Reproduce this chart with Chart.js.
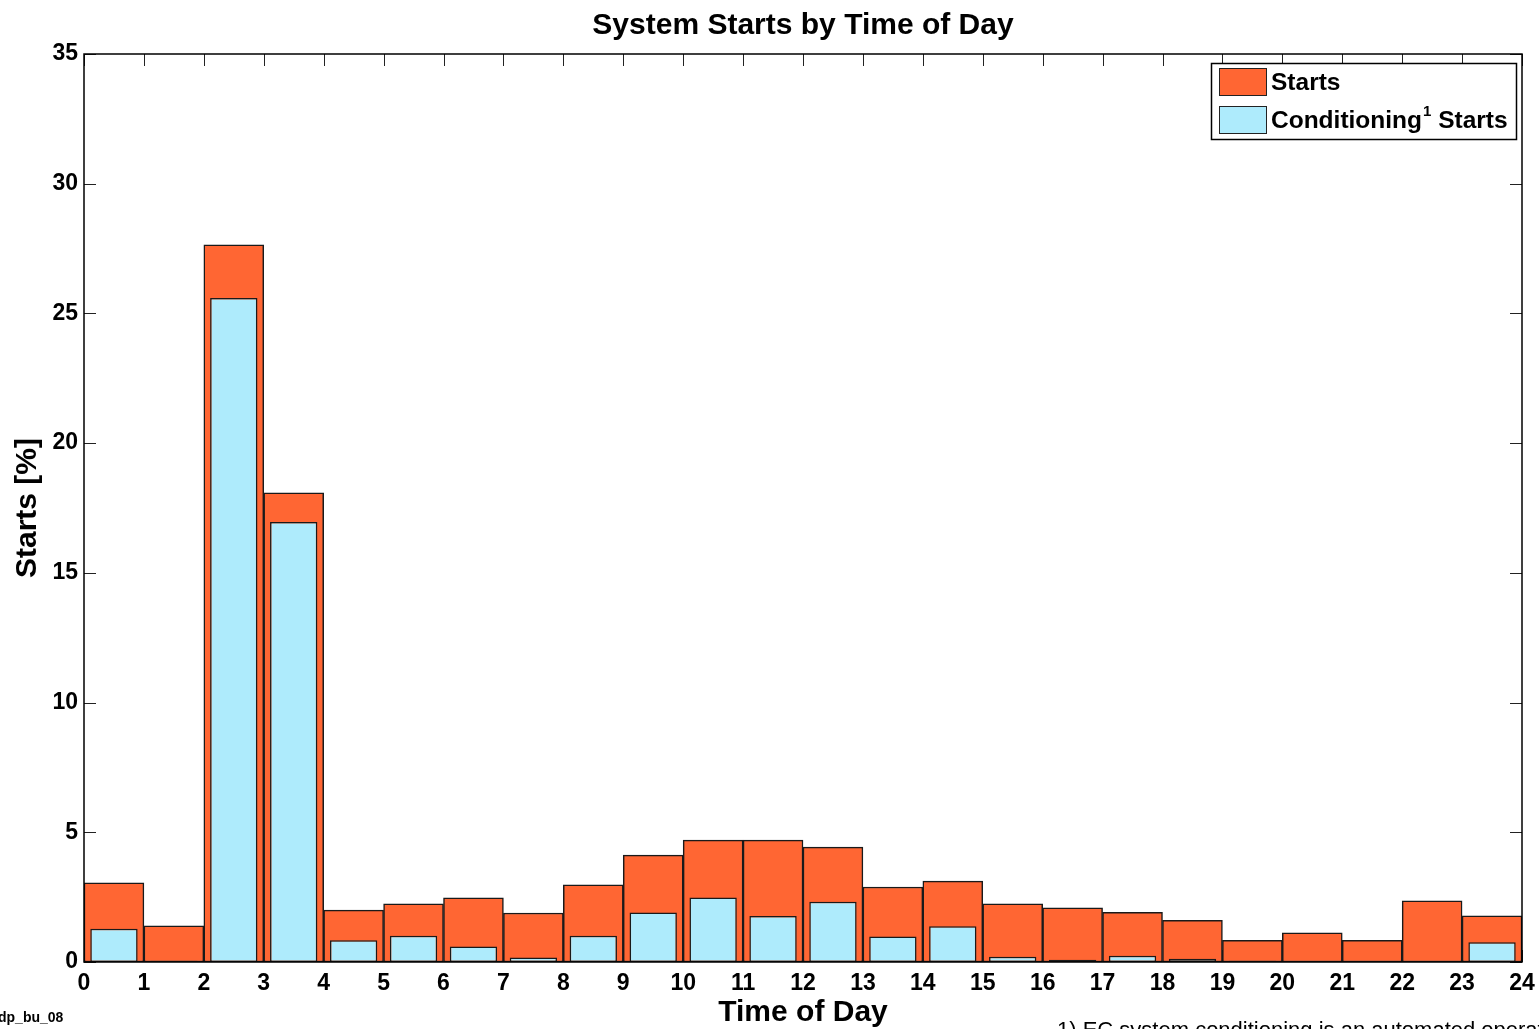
<!DOCTYPE html>
<html>
<head>
<meta charset="utf-8">
<script src="https://cdn.jsdelivr.net/npm/chart.js@4.4.1/dist/chart.umd.min.js"></script>
<style>
  body { margin: 0; background: #fff; }
  canvas { display: block; }
</style>
</head>
<body>
<canvas id="startsChart" width="1539" height="1029"></canvas>
<script>
// hour of day (bar starts at h, spans one hour)
var hours = [0, 1, 2, 3, 4, 5, 6, 7, 8, 9, 10, 11, 12, 13, 14, 15, 16, 17, 18, 19, 20, 21, 22, 23];
// all starts [%]
var starts = [3.05, 1.39, 27.64, 18.08, 2.00, 2.24, 2.47, 1.89, 2.97, 4.12, 4.70, 4.70,
              4.43, 2.89, 3.12, 2.24, 2.09, 1.91, 1.61, 0.84, 1.12, 0.84, 2.36, 1.78];
// conditioning starts [%]
var condStarts = [1.28, 0.05, 25.59, 16.96, 0.84, 1.01, 0.60, 0.17, 1.01, 1.91, 2.49, 1.77,
                  2.32, 0.98, 1.38, 0.20, 0.09, 0.24, 0.13, 0.05, 0, 0, 0, 0.76];
var yTicks = [0, 5, 10, 15, 20, 25, 30, 35];

var FONT = "'Liberation Sans', Arial, Helvetica, sans-serif";

function toPoints(vals) {
    return hours.map(function(h, i) { return { x: h + 0.5, y: vals[i] }; });
}

// inward tick marks (matlab style), drawn under the bars
var tickMarks = {
    id: 'tickMarks',
    beforeDatasetsDraw: function(chart) {
        var c = chart.ctx, a = chart.chartArea;
        var xs = chart.scales.x, ys = chart.scales.y;
        c.save();
        c.strokeStyle = '#222';
        c.lineWidth = 1;
        c.beginPath();
        for (var h = 0; h <= 24; h++) {
            var px = Math.round(xs.getPixelForValue(h)) + 0.5;
            c.moveTo(px, a.top); c.lineTo(px, a.top + 12);
            c.moveTo(px, a.bottom); c.lineTo(px, a.bottom - 12);
        }
        yTicks.forEach(function(v) {
            var py = Math.round(ys.getPixelForValue(v)) + 0.5;
            c.moveTo(a.left, py); c.lineTo(a.left + 12, py);
            c.moveTo(a.right, py); c.lineTo(a.right - 12, py);
        });
        c.stroke();
        c.restore();
    },
    afterDatasetsDraw: function(chart) {
        var c = chart.ctx, a = chart.chartArea;
        c.save();
        c.strokeStyle = '#000';
        c.lineWidth = 1.5;
        c.strokeRect(a.left, a.top, a.right - a.left, a.bottom - a.top);
        c.restore();
    }
};

// boxed legend in top right corner + footnotes
var boxLegend = {
    id: 'boxLegend',
    afterDraw: function(chart) {
        var c = chart.ctx;
        var sets = chart.data.datasets;
        var boxL = 1211, boxT = 63, boxW = 305, boxH = 76;
        c.save();
        c.fillStyle = '#fff';
        c.fillRect(boxL, boxT, boxW, boxH);
        c.strokeStyle = '#000';
        c.lineWidth = 1.5;
        c.strokeRect(boxL + 0.5, boxT + 0.5, boxW, boxH);

        var rowY = [82, 120];
        sets.forEach(function(ds, i) {
            var cy = rowY[i];
            c.fillStyle = ds.backgroundColor;
            c.fillRect(1219, cy - 14, 47, 28);
            c.strokeStyle = '#222';
            c.lineWidth = 1;
            c.strokeRect(1219.5, cy - 13.5, 47, 27);

            c.fillStyle = '#000';
            c.textBaseline = 'middle';
            c.textAlign = 'left';
            var parts = ds.label.split('\u00b9');
            var x = 1271;
            c.font = 'bold 24.5px ' + FONT;
            c.fillText(parts[0], x, cy + 1);
            x += c.measureText(parts[0]).width;
            if (parts.length > 1) {
                c.font = 'bold 15px ' + FONT;
                c.fillText('1', x + 1, cy - 8);
                x += c.measureText('1').width + 1;
                c.font = 'bold 24.5px ' + FONT;
                c.fillText(parts[1], x, cy + 1);
            }
        });

        c.fillStyle = '#000';
        c.textBaseline = 'middle';
        c.font = 'bold 14px ' + FONT;
        c.fillText('dp_bu_08', -2, 1018);
        c.font = '22px ' + FONT;
        c.textBaseline = 'alphabetic';
        c.fillText('1) EC system conditioning is an automated operation', 1057, 1037);
        c.restore();
    }
};

var ctx = document.getElementById('startsChart').getContext('2d');

var startsChart = new Chart(ctx, {
    type: 'bar',
    data: {
        datasets: [{
            label: 'Starts',
            data: toPoints(starts),
            backgroundColor: '#FF6633',
            borderColor: '#1a1a1a',
            borderWidth: 1.5,
            borderSkipped: false,
            barPercentage: 1.0,
            categoryPercentage: 1.0,
            grouped: false,
            order: 2
        }, {
            label: 'Conditioning\u00b9 Starts',
            data: toPoints(condStarts),
            backgroundColor: '#AEEBFC',
            borderColor: '#1a1a1a',
            borderWidth: 1.5,
            borderSkipped: false,
            barPercentage: 0.79,
            categoryPercentage: 1.0,
            grouped: false,
            order: 1
        }]
    },
    options: {
        responsive: false,
        animation: false,
        layout: { padding: { left: 0, right: 17, top: 0, bottom: 0 } },
        plugins: {
            legend: { display: false },
            tooltip: { enabled: false },
            title: {
                display: true,
                fullSize: false,
                text: 'System Starts by Time of Day',
                color: '#000',
                font: { family: FONT, size: 30, weight: 'bold', lineHeight: 1.2 },
                padding: { top: 8, bottom: 10 }
            }
        },
        scales: {
            x: {
                type: 'linear',
                min: 0,
                max: 24,
                offset: false,
                grid: { display: false, drawTicks: false },
                border: { display: false },
                ticks: {
                    stepSize: 1,
                    autoSkip: false,
                    maxRotation: 0,
                    padding: 8,
                    color: '#000',
                    font: { family: FONT, size: 23, weight: 'bold' }
                },
                title: {
                    display: true,
                    text: 'Time of Day',
                    color: '#000',
                    font: { family: FONT, size: 30, weight: 'bold', lineHeight: 1.2 },
                    padding: { top: 0, bottom: -2 }
                },
                afterFit: function(scale) {
                    scale.height = 67;
                    scale.paddingLeft = 0;
                    scale.paddingRight = 0;
                }
            },
            y: {
                min: 0,
                max: 35,
                grid: { display: false, drawTicks: false },
                border: { display: false },
                ticks: {
                    stepSize: 5,
                    padding: 6,
                    color: '#000',
                    font: { family: FONT, size: 23, weight: 'bold' }
                },
                title: {
                    display: true,
                    text: 'Starts [%]',
                    color: '#000',
                    font: { family: FONT, size: 30, weight: 'bold', lineHeight: 1.2 },
                    padding: { top: 10, bottom: 0 }
                },
                afterFit: function(scale) { scale.width = 84; }
            }
        }
    },
    plugins: [tickMarks, boxLegend]
});
</script>
</body>
</html>
